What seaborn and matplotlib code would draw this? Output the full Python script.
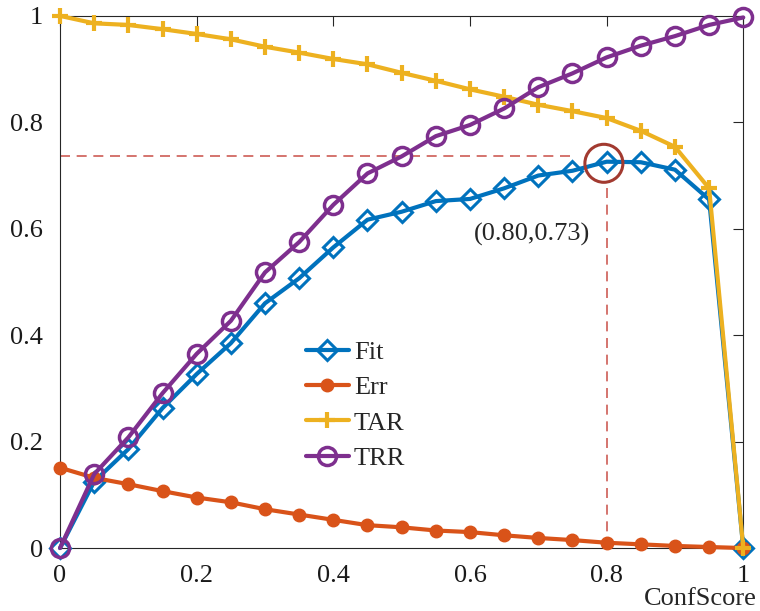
import numpy as np
import pandas as pd
import matplotlib
matplotlib.use("Agg")
import matplotlib.pyplot as plt
import seaborn as sns
from matplotlib.patches import Ellipse

sns.set_theme(style="white")
plt.rcParams['font.family'] = ['Liberation Serif', 'DejaVu Serif']
plt.rcParams['mathtext.fontset'] = 'stix'

conf = [0.00, 0.05, 0.10, 0.15, 0.20, 0.25, 0.30, 0.35, 0.40, 0.45, 0.50,
        0.55, 0.60, 0.65, 0.70, 0.75, 0.80, 0.85, 0.90, 0.95, 1.00]
fit = [0.000, 0.125, 0.186, 0.263, 0.327, 0.385, 0.460, 0.507, 0.565, 0.617, 0.632,
       0.652, 0.656, 0.676, 0.700, 0.709, 0.726, 0.725, 0.711, 0.655, 0.000]
err = [0.151, 0.132, 0.120, 0.107, 0.095, 0.086, 0.073, 0.063, 0.053, 0.043, 0.039,
       0.033, 0.030, 0.024, 0.019, 0.015, 0.010, 0.007, 0.004, 0.002, 0.000]
tar = [1.000, 0.986, 0.983, 0.975, 0.966, 0.956, 0.942, 0.931, 0.919, 0.909, 0.893,
       0.878, 0.862, 0.848, 0.833, 0.821, 0.808, 0.784, 0.754, 0.676, 0.000]
trr = [0.000, 0.139, 0.208, 0.291, 0.365, 0.427, 0.518, 0.575, 0.645, 0.704, 0.736,
       0.774, 0.795, 0.826, 0.866, 0.892, 0.922, 0.944, 0.962, 0.983, 0.997]
best_x, best_y = 0.80, 0.736
best_label = "(0.80,0.73)"
ticks = [0, 0.2, 0.4, 0.6, 0.8, 1]
tick_labels = ["0", "0.2", "0.4", "0.6", "0.8", "1"]

blue, orange, yellow, purple = "#0072BD", "#D95319", "#EDB120", "#7E2F8E"
FS = 19

fig = plt.figure(figsize=(7.6, 6.11), dpi=100)
ax = fig.add_axes([0.079, 0.103, 0.899, 0.871])

df = pd.DataFrame({"x": conf, "Fit": fit, "Err": err, "TAR": tar, "TRR": trr})

# annotation dashed lines
ax.plot([0, 0.752], [best_y, best_y], ls=(0, (6, 4)), color="#CD5C55", lw=1.2, zorder=1)
ax.plot([best_x, best_x], [0, 0.69], ls=(0, (6, 4)), color="#CD5C55", lw=1.2, zorder=1)

sns.lineplot(data=df, x="x", y="Fit", ax=ax, color=blue, lw=3, marker="D",
             markersize=10, markerfacecolor="none", markeredgecolor=blue,
             markeredgewidth=2.2, label="Fit", zorder=3, clip_on=False)
sns.lineplot(data=df, x="x", y="Err", ax=ax, color=orange, lw=3, marker="o",
             markersize=9, markerfacecolor=orange, markeredgecolor=orange,
             markeredgewidth=1, label="Err", zorder=3, clip_on=False)
sns.lineplot(data=df, x="x", y="TAR", ax=ax, color=yellow, lw=3, marker="+",
             markersize=12, markeredgecolor=yellow, markeredgewidth=3,
             label="TAR", zorder=3, clip_on=False)
sns.lineplot(data=df, x="x", y="TRR", ax=ax, color=purple, lw=3, marker="o",
             markersize=13, markerfacecolor="none", markeredgecolor=purple,
             markeredgewidth=2.5, label="TRR", zorder=3, clip_on=False)

# highlight circle
circ = Ellipse((0.796, 0.723), width=38/683, height=38/532, fill=False,
               edgecolor="#A23A30", lw=2.2, zorder=4)
ax.add_patch(circ)
ax.text(0.691, 0.59, best_label, fontsize=FS, ha="center", va="center")

ax.set_xlim(0, 1)
ax.set_ylim(0, 1)
ax.set_xticks(ticks)
ax.set_xticklabels(tick_labels)
ax.set_yticks(ticks)
ax.set_yticklabels(tick_labels)
ax.set_xlabel("")
ax.set_ylabel("")
ax.tick_params(direction="in", length=7, width=0.8, color="#262626",
               top=True, right=True, labelsize=FS, labelcolor="#1a1a1a")
ax.tick_params(axis="x", pad=12)
ax.tick_params(axis="y", pad=12)
for s in ax.spines.values():
    s.set_color("#262626")
    s.set_linewidth(0.8)
ax.text(1.02, -0.095, "ConfScore", transform=ax.transAxes, ha="right",
        va="center", fontsize=FS)

leg = ax.legend(loc="upper left", bbox_to_anchor=(0.345, 0.41), frameon=False,
                fontsize=FS, handlelength=1.6, handletextpad=0.2, labelspacing=0.45,
                borderaxespad=0)

fig.savefig("out.png", dpi=100)
